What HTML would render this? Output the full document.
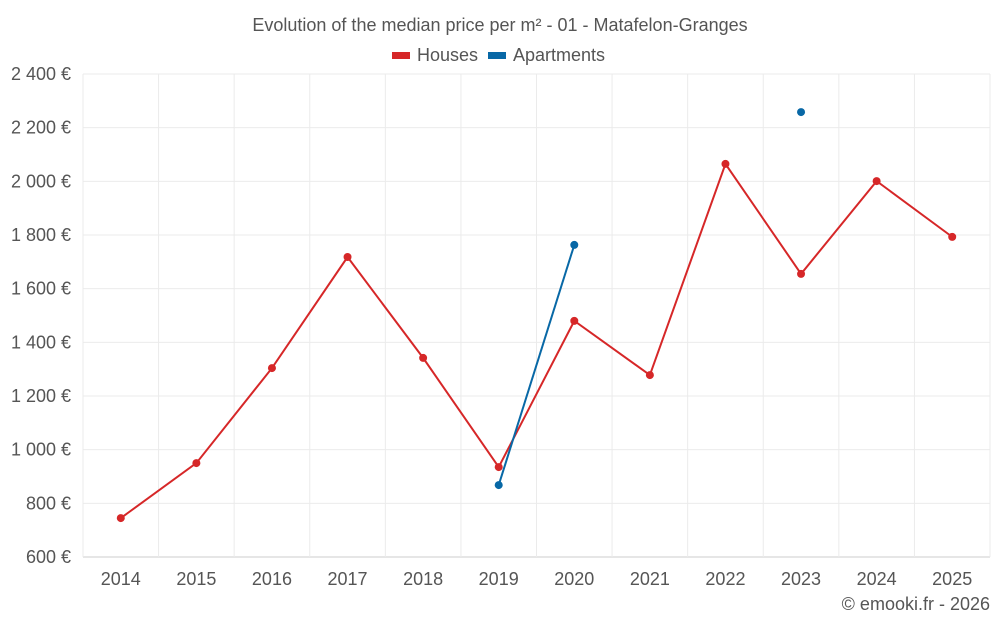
<!DOCTYPE html>
<html><head><meta charset="utf-8"><style>
body{margin:0;background:#fff;}
svg{display:block;font-family:"Liberation Sans",sans-serif;}
</style></head><body>
<svg id="chart" width="1000" height="625">
<text x="500" y="31" text-anchor="middle" font-size="18" fill="#555">Evolution of the median price per m² - 01 - Matafelon-Granges</text>
<g><rect x="392" y="52" width="18" height="7" fill="#d62728"/><text x="417" y="61" font-size="18" fill="#555">Houses</text></g>
<g><rect x="488" y="52" width="18" height="7" fill="#0868a6"/><text x="513" y="61" font-size="18" fill="#555">Apartments</text></g>
<g id="grid"></g><g id="axes"></g><g id="series"></g>
<text x="990" y="610" text-anchor="end" font-size="18" fill="#555">© emooki.fr - 2026</text>
</svg>
<script>
const years=["2014","2015","2016","2017","2018","2019","2020","2021","2022","2023","2024","2025"];
const houses=[745,950,1304,1718,1342,935,1480,1278,2065,1655,2001,1793];
const apartments=[null,null,null,null,null,868,1763,null,null,2258,null,null];
const yTicks=[600,800,1000,1200,1400,1600,1800,2000,2200,2400];
const L=83,R=990,T=74,B=557,ymin=600,ymax=2400;
const NS="http://www.w3.org/2000/svg";
const band=(R-L)/years.length;
const xs=i=>L+band*(i+0.5);
const ys=v=>B-(v-ymin)/(ymax-ymin)*(B-T);
function mk(t,a,p){const e=document.createElementNS(NS,t);for(const k in a)e.setAttribute(k,a[k]);p.appendChild(e);return e;}
const grid=document.getElementById('grid'),axes=document.getElementById('axes'),ser=document.getElementById('series');
yTicks.forEach(v=>{
 const l=mk('line',{x1:L,x2:R,y1:ys(v),y2:ys(v),stroke:v===ymin?'#ccc':'#ebebeb','stroke-width':1},grid);
 
 
 const t=mk('text',{x:L-12,y:ys(v)+6,'text-anchor':'end','font-size':18,fill:'#555'},axes);
 t.textContent=v.toLocaleString('en-US').replace(',',' ')+' €';
 
 
});
for(let i=0;i<=years.length;i++){
 const l=mk('line',{x1:L+band*i,x2:L+band*i,y1:T,y2:B,stroke:'#ebebeb'},grid);
 
 
}
years.forEach((y,i)=>{
 const t=mk('text',{x:xs(i),y:585,'text-anchor':'middle','font-size':18,fill:'#555'},axes);
 t.textContent=y;
 
 
});
function draw(vals,color,name){
 let seg=[];const segs=[];
 vals.forEach((v,i)=>{if(v==null){if(seg.length)segs.push(seg);seg=[];}else seg.push([xs(i),ys(v)]);});
 if(seg.length)segs.push(seg);
 segs.forEach(s=>{if(s.length>1){const p=mk('polyline',{points:s.map(p=>p.join(',')).join(' '),fill:'none',stroke:color,'stroke-width':2},ser);
  
  }});
 vals.forEach((v,i)=>{if(v==null)return;const c=mk('circle',{cx:xs(i),cy:ys(v),r:4,fill:color},ser);
  
  });
}
draw(houses,'#d62728','houses');
draw(apartments,'#0868a6','apartments');
</script>
</body></html>
